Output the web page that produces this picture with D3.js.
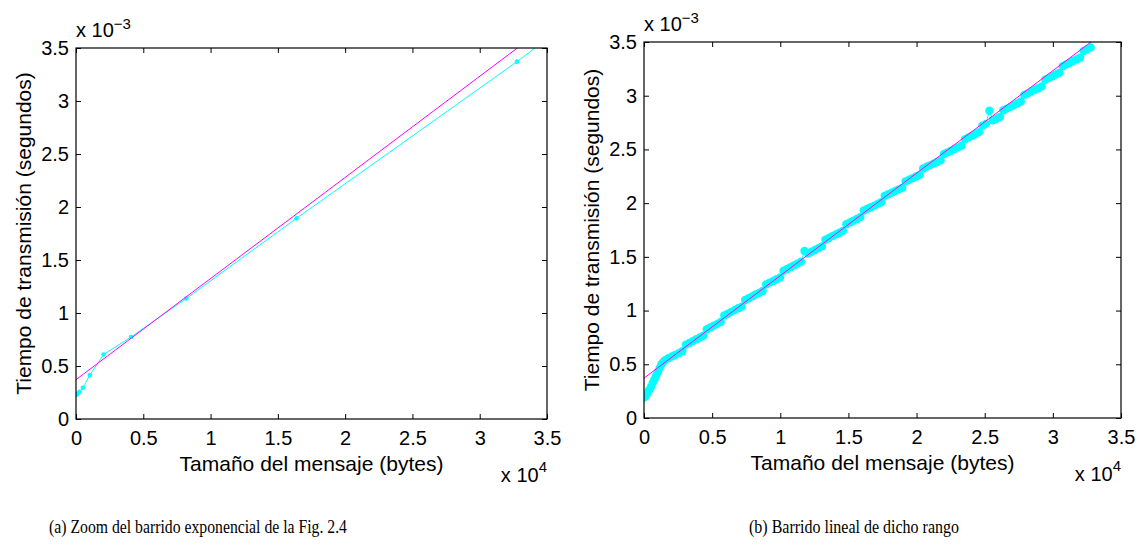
<!DOCTYPE html>
<html lang="es">
<head>
<meta charset="utf-8">
<title>Tiempo de transmisión</title>
<script src="https://d3js.org/d3.v7.min.js"></script>
<style>
  body { margin: 0; background: #fff; }
  text { font-family: "Liberation Sans", Arial, sans-serif; fill: #000; }
  .cap { font-family: "Liberation Serif", "Times New Roman", serif; }
</style>
</head>
<body>
<script>
// ---- data (x in bytes, y in units of 1e-3 s) ----
// (a) exponential sweep
let expX = [1, 2, 4, 8, 16, 32, 64, 128, 256, 512, 1024, 2048, 4096, 8192, 16384, 32768, 65536];
let expY = [0.229, 0.230, 0.231, 0.232, 0.232, 0.233, 0.235, 0.238, 0.257, 0.295, 0.414, 0.608, 0.774, 1.137, 1.893, 3.371, 6.52];

// (b) linear sweep
let linX = [0,128,256,384,512,640,768,896,1024,1152,1280,1408,1536,1792,2048,2304,2560,2816,3072,3328,3584,3840,4096,4352,4608,4864,
  5120,5376,5632,5888,6144,6400,6656,6912,7168,7424,7680,7936,8192,8448,8704,8960,9216,9472,9728,9984,
  10240,10496,10752,11008,11264,11520,11776,12032,12288,12544,12800,13056,13312,13568,13824,14080,14336,14592,14848,15104,
  15360,15616,15872,16128,16384,16640,16896,17152,17408,17664,17920,18176,18432,18688,18944,19200,19456,19712,19968,20224,
  20480,20736,20992,21248,21504,21760,22016,22272,22528,22784,23040,23296,23552,23808,24064,24320,24576,24832,25088,25344,
  25600,25856,26112,26368,26624,26880,27136,27392,27648,27904,28160,28416,28672,28928,29184,29440,29696,29952,30208,30464,
  30720,30976,31232,31488,31744,32000,32256,32512,32768];
let linY = [0.19,0.205,0.23,0.26,0.29,0.325,0.36,0.395,0.43,0.465,0.50,0.52,
  0.539,0.556,0.572,0.588,0.604,0.621, 0.683,0.699,0.716,0.733,0.749,0.766,
  0.827,0.843,0.860,0.876,0.893, 0.955,0.971,0.988,1.005,1.021,1.037, 1.099,1.115,1.132,1.149,1.165,1.182,
  1.244,1.260,1.276,1.292,1.309, 1.371,1.387,1.404,1.421,1.437,1.454, 1.555,1.531,1.548,1.564,1.581,1.598,
  1.659,1.676,1.693,1.709,1.725,1.742, 1.803,1.820,1.836,1.853,1.870, 1.931,1.948,1.962,1.977,1.993,2.008,
  2.068,2.083,2.098,2.113,2.128,2.142, 2.203,2.218,2.233,2.248,2.263, 2.323,2.339,2.354,2.368,2.383,2.398,
  2.458,2.473,2.488,2.504,2.519,2.535, 2.595,2.612,2.628,2.644,2.661, 2.722,2.738,2.860,2.771,2.786,2.802,
  2.864,2.880,2.896,2.913,2.928,2.945, 3.007,3.022,3.038,3.055,3.070,3.087, 3.149,3.164,3.181,3.198,3.213,
  3.274,3.291,3.306,3.323,3.339,3.355, 3.417,3.433,3.449];

// least squares fit (magenta)
let fitX = [0, 35000];
let fitY = [0.371, 3.710];

// ticks
let xTicks = [0, 5000, 10000, 15000, 20000, 25000, 30000, 35000];
let xTickLabels = ["0", "0.5", "1", "1.5", "2", "2.5", "3", "3.5"];
let yTicks = [0, 0.5, 1, 1.5, 2, 2.5, 3, 3.5];
let yTickLabels = ["0", "0.5", "1", "1.5", "2", "2.5", "3", "3.5"];

let svg = d3.select("body").append("svg")
  .attr("width", 1140).attr("height", 554);

function panel(id, box, xs, ys, r, caption, capX, capLen) {
  let x = d3.scaleLinear().domain([0, 35000]).range([box.left, box.right]);
  let y = d3.scaleLinear().domain([0, 3.5]).range([box.bottom, box.top]);
  let g = svg.append("g");

  g.append("clipPath").attr("id", id)
    .append("rect")
    .attr("x", box.left).attr("y", box.top)
    .attr("width", box.right - box.left).attr("height", box.bottom - box.top);

  let plot = g.append("g").attr("clip-path", "url(#" + id + ")");
  let pts = xs.map((v, i) => [v, ys[i]]);
  let line = d3.line().x(d => x(d[0])).y(d => y(d[1]));

  plot.append("path").datum(pts)
    .attr("d", line).attr("fill", "none")
    .attr("stroke", "#00ffff").attr("stroke-width", 1);
  plot.selectAll("circle").data(pts).enter().append("circle")
    .attr("cx", d => x(d[0])).attr("cy", d => y(d[1]))
    .attr("r", r).attr("fill", "#00ffff");

  plot.append("path").datum(fitX.map((v, i) => [v, fitY[i]]))
    .attr("d", line).attr("fill", "none")
    .attr("stroke", "#ff00ff").attr("stroke-width", 1);

  // axes, ticks inward on all four sides
  let fmtX = (d, i) => xTickLabels[i];
  let fmtY = (d, i) => yTickLabels[i];
  let ax = [
    [d3.axisBottom(x).tickValues(xTicks).tickFormat(fmtX).tickPadding(12), box.bottom, null],
    [d3.axisTop(x).tickValues(xTicks).tickFormat(""), box.top, null],
    [d3.axisLeft(y).tickValues(yTicks).tickFormat(fmtY).tickPadding(7), null, box.left],
    [d3.axisRight(y).tickValues(yTicks).tickFormat(""), null, box.right]
  ];
  ax.forEach(a => {
    let ag = g.append("g")
      .attr("transform", "translate(" + (a[2] || 0) + "," + (a[1] || 0) + ")")
      .call(a[0].tickSize(-5).tickSizeOuter(0));
    ag.select(".domain").remove();
    ag.selectAll("line").attr("stroke", "#000");
    ag.selectAll("text").attr("font-size", 20).attr("font-family", null).attr("fill", "#000");
  });

  g.append("rect")
    .attr("x", box.left).attr("y", box.top)
    .attr("width", box.right - box.left).attr("height", box.bottom - box.top)
    .attr("fill", "none").attr("stroke", "#000").attr("stroke-width", 1.2);

  // exponent labels
  let e1 = g.append("text").attr("x", box.left).attr("y", box.top - 11).attr("font-size", 20);
  e1.append("tspan").text("x 10");
  e1.append("tspan").attr("dy", -8).attr("font-size", 15).text("\u22123");

  let e2 = g.append("text").attr("x", box.right).attr("y", box.bottom + 63)
    .attr("font-size", 20).attr("text-anchor", "end");
  e2.append("tspan").text("x 10");
  e2.append("tspan").attr("dy", -10).attr("font-size", 15).text("4");

  g.append("text")
    .attr("x", (box.left + box.right) / 2).attr("y", box.bottom + 52)
    .attr("text-anchor", "middle").attr("font-size", 21)
    .text("Tamaño del mensaje (bytes)");

  g.append("text")
    .attr("transform", "translate(" + (box.left - 45) + "," + ((box.top + box.bottom) / 2) + ") rotate(-90)")
    .attr("text-anchor", "middle").attr("font-size", 21)
    .text("Tiempo de transmisión (segundos)");

  g.append("text").attr("class", "cap")
    .attr("x", capX).attr("y", 533)
    .attr("text-anchor", "middle").attr("font-size", 18)
    .attr("textLength", capLen).attr("lengthAdjust", "spacingAndGlyphs")
    .text(caption);
}

panel("clipA", {left: 76, right: 547, top: 48, bottom: 419}, expX, expY, 2.3,
  "(a) Zoom del barrido exponencial de la Fig. 2.4", 198, 298);
panel("clipB", {left: 644, right: 1121, top: 42, bottom: 418}, linX, linY, 4.2,
  "(b) Barrido lineal de dicho rango", 854, 210);
</script>
</body>
</html>
